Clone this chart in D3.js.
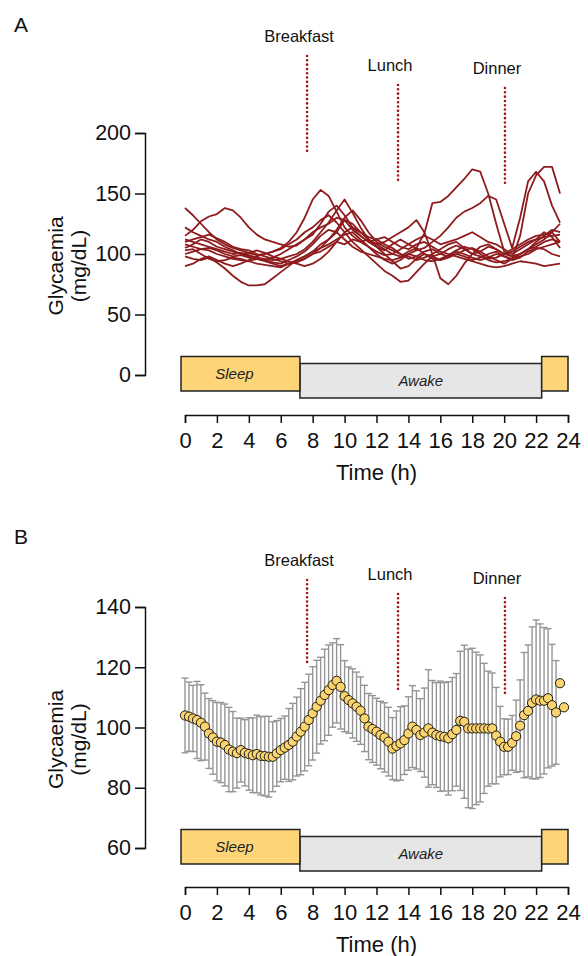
<!DOCTYPE html>
<html><head><meta charset="utf-8">
<script src="https://cdn.jsdelivr.net/npm/d3@7"></script>
<style>
body{margin:0;background:#fff;}
svg{display:block;font-family:"Liberation Sans",Arial,sans-serif;}
</style></head>
<body>
<svg id="chart" width="588" height="956"></svg>
<script>
// ---------------- DATA ----------------
const timesA = d3.range(0, 24, 0.5); // hours
const seriesA = [
 [138,132,125,118,112,108,105,103,101,99,100,102,105,110,118,130,145,153,148,135,122,115,110,112,108,104,100,98,102,105,100,96,95,98,102,100,97,95,97,100,98,96,100,104,108,112,118,125],
 [115,120,127,131,133,138,136,130,122,116,112,110,108,106,107,112,118,122,125,130,128,120,115,110,112,108,105,100,96,98,102,104,100,98,100,103,105,102,98,95,92,96,115,150,165,172,172,150],
 [108,106,104,105,103,100,98,99,97,96,95,97,100,104,108,112,116,125,135,140,132,122,115,110,106,103,108,112,108,105,117,142,143,148,155,162,170,168,150,125,102,98,100,104,106,110,112,110],
 [100,102,104,103,100,98,96,95,94,96,95,93,92,95,98,102,108,115,120,118,112,106,102,100,98,96,95,97,100,103,105,110,115,122,130,135,138,142,148,145,125,105,130,160,168,160,140,126],
 [98,96,95,97,93,88,82,77,74,74,75,80,85,90,95,98,102,108,112,118,128,125,118,112,106,100,94,88,90,96,100,98,95,97,100,98,95,97,100,102,98,95,97,102,105,104,100,98],
 [90,92,96,98,95,92,90,92,95,98,100,102,104,108,112,118,122,128,132,126,118,110,104,98,92,86,82,77,78,85,92,98,100,104,107,104,100,98,95,93,94,96,98,100,104,106,108,110],
 [112,110,108,106,104,102,100,101,99,97,96,95,96,98,100,104,110,118,126,136,145,134,122,112,108,110,114,118,122,128,118,100,80,75,82,92,100,106,108,104,100,102,106,110,112,114,115,116],
 [122,118,115,112,110,106,103,100,98,96,94,92,90,92,94,96,100,105,112,120,130,136,128,118,110,106,103,100,98,95,97,100,104,108,110,105,100,102,106,104,100,98,100,104,110,115,120,118],
 [105,108,112,110,106,104,102,100,101,103,101,98,96,94,92,90,92,96,102,110,118,122,118,114,112,114,110,106,104,108,110,106,102,100,98,96,94,92,90,89,90,92,94,93,92,90,91,92],
 [110,112,114,116,113,110,106,104,103,100,98,96,94,92,93,96,100,102,106,110,108,112,110,106,102,99,100,104,108,112,115,112,108,110,112,115,118,114,110,108,104,100,104,108,112,118,114,105],
 [103,104,100,96,94,95,97,96,94,92,91,90,89,92,95,98,102,105,108,112,116,118,112,106,100,95,92,95,100,98,95,94,96,99,103,106,104,100,96,97,100,104,108,112,115,116,118,110]
];

const timesB = d3.range(0, 24, 0.25); // hours
const meanB = [104,103.6,103,102.5,101.6,100.3,98,96.7,95.3,95,94.2,92.7,92,91.5,92.5,91.6,91.2,90.8,91.2,90.6,90.5,90.3,90.3,91.4,
 92.5,93.3,94.2,95.3,97,98.6,100.3,102.5,104.7,106.9,108.9,110.8,112.4,114.1,115.5,113.5,110.4,109.1,108,106.9,105.6,103,100.3,99.5,
 98.6,97.5,96.7,95.3,93,93.9,94.7,95.8,98,100.3,99.2,97.5,98.3,99.7,98.3,97.5,97.1,96.9,96.4,97.8,99.2,102.2,101.9,99.7,
 99.7,99.7,99.7,99.7,99.6,99.7,97.3,95.3,93.6,93.6,94.9,97.1,100.6,104.1,105.5,108.2,109.3,108.9,108.9,109.7,107.4,105,114.7,106.7];
const sdB = [12.4,11.5,11,12.8,12.6,11.1,11.6,12.2,13,13.3,13.6,14,13.3,11.6,10.6,11,12,12.4,12.9,13,13.2,13.4,11.6,10.9,
 10.5,10.5,12.1,12.7,13.1,14.3,14.7,15.2,15.5,15.4,14.4,15.2,15,14,14,14,11.8,11,11.5,11.5,11.2,11,11,11.1,
 11.1,11.2,11.5,11.4,10.3,11.6,12.2,11.4,12.2,13.6,13,12.1,14.8,19.5,17.3,17.4,18.3,18,18.8,18.8,18.7,23.1,25.4,26.3,
 26.6,25.3,24.4,21.6,19.1,18.4,16,11.7,9.3,9.2,9.1,12,15.2,20.8,21.9,25.2,26.4,25.5,24.3,23.1,20.2,17.2,0,0];

const xTicks = [0,2,4,6,8,10,12,14,16,18,20,22,24];
const yTicksA = [0,50,100,150,200];
const yTicksB = [60,80,100,120,140];
const meals = ["Breakfast","Lunch","Dinner"];
const mealTimes = [7.65, 13.35, 20.05];
const sleepPeriods = [[-0.25, 7.2], [22.35, 24]];
const awakePeriod = [7.2, 22.35];

// ---------------- DRAW ----------------
const svg = d3.select("#chart");
const x = d3.scaleLinear().domain([0,24]).range([185,568]);
const RED = "#8e1b1d";
const FONT = "Liberation Sans, Arial, sans-serif";

function panel(cfg){
  const g = svg.append("g");
  const y = d3.scaleLinear().domain(cfg.domain).range([cfg.yBottom, cfg.yTop]);
  g.append("text").attr("x",14).attr("y",cfg.letterY).attr("font-size",21).attr("fill","#111").text(cfg.letter);
  // y axis
  const ya = g.append("g").attr("transform","translate(145,0)")
    .call(d3.axisLeft(y).tickValues(cfg.yTicks).tickSize(10).tickSizeOuter(10).tickPadding(4));
  ya.selectAll("path,line").attr("stroke","#111").attr("stroke-width",1.5);
  ya.selectAll("text").attr("font-size",21.5).attr("fill","#111").attr("font-family",FONT);
  // y label
  const yl = g.append("text").attr("transform",`translate(63,${(cfg.yBottom+cfg.yTop)/2+12}) rotate(-90)`)
    .attr("text-anchor","middle").attr("font-size",21).attr("fill","#111");
  yl.append("tspan").attr("x",0).attr("dy",0).text("Glycaemia");
  yl.append("tspan").attr("x",0).attr("dy",23).text("(mg/dL)");
  // x axis
  const xa = g.append("g").attr("transform",`translate(0,${cfg.xAxisY})`)
    .call(d3.axisBottom(x).tickValues(xTicks).tickSize(8).tickSizeOuter(8).tickPadding(9));
  xa.selectAll("path,line").attr("stroke","#111").attr("stroke-width",1.5);
  xa.selectAll("text").attr("font-size",22).attr("fill","#111").attr("font-family",FONT);
  g.append("text").attr("x",x(12)).attr("y",cfg.xAxisY+65).attr("text-anchor","middle")
    .attr("font-size",22).attr("fill","#111").text("Time (h)");
  // sleep / awake bars
  const base = cfg.yBottom;
  g.append("rect").attr("x",x(awakePeriod[0])).attr("width",x(awakePeriod[1])-x(awakePeriod[0]))
    .attr("y",base-11.5).attr("height",34.5).attr("fill","#e6e6e6").attr("stroke","#222").attr("stroke-width",1.5);
  g.selectAll("rect.sleep").data(sleepPeriods).join("rect").attr("class","sleep")
    .attr("x",d=>x(d[0])).attr("width",d=>x(d[1])-x(d[0]))
    .attr("y",base-18.5).attr("height",34.5).attr("fill","#fdd477").attr("stroke","#222").attr("stroke-width",1.5);
  g.append("text").attr("x",(x(sleepPeriods[0][0])+x(sleepPeriods[0][1]))/2-6).attr("y",base+4)
    .attr("text-anchor","middle").attr("font-size",15).attr("font-style","italic").attr("fill","#222").text("Sleep");
  g.append("text").attr("x",(x(awakePeriod[0])+x(awakePeriod[1]))/2).attr("y",base+11)
    .attr("text-anchor","middle").attr("font-size",15).attr("font-style","italic").attr("fill","#222").text("Awake");
  // meals
  meals.forEach((m,i)=>{
    const mx = x(mealTimes[i]);
    g.append("line").attr("x1",mx).attr("x2",mx)
      .attr("y1",cfg.mealY[i][0]).attr("y2",cfg.mealY[i][1])
      .attr("stroke","#a3161c").attr("stroke-width",2.6).attr("stroke-linecap","round")
      .attr("stroke-dasharray","0.01,4.3");
    g.append("text").attr("x",mx-8).attr("y",cfg.mealY[i][0]-14).attr("text-anchor","middle")
      .attr("font-size",16.5).attr("fill","#111").text(m);
  });
  return {g,y};
}

// Panel A
const A = panel({letter:"A",letterY:32,domain:[0,200],yTop:133,yBottom:375,yTicks:yTicksA,xAxisY:415,
  mealY:[[56,155],[85,183],[88,187]]});
const lineA = d3.line().x((d,i)=>x(timesA[i])).y(d=>A.y(d));
A.g.append("g").selectAll("path").data(seriesA).join("path")
  .attr("d",lineA).attr("fill","none").attr("stroke",RED).attr("stroke-width",1.8).attr("stroke-linejoin","round");

// Panel B
const B = panel({letter:"B",letterY:544,domain:[60,140],yTop:607,yBottom:848,yTicks:yTicksB,xAxisY:887,
  mealY:[[580,663],[594,692],[598,697]]});
const eb = B.g.append("g").attr("stroke","#959595").attr("stroke-width",1.4);
timesB.forEach((t,i)=>{
  if(!sdB[i]) return;
  const cx = x(t), y1 = B.y(meanB[i]+sdB[i]), y2 = B.y(meanB[i]-sdB[i]);
  eb.append("line").attr("x1",cx).attr("x2",cx).attr("y1",y1).attr("y2",y2);
  eb.append("line").attr("x1",cx-3.5).attr("x2",cx+3.5).attr("y1",y1).attr("y2",y1);
  eb.append("line").attr("x1",cx-3.5).attr("x2",cx+3.5).attr("y1",y2).attr("y2",y2);
});
B.g.append("g").selectAll("circle").data(meanB).join("circle")
  .attr("cx",(d,i)=>x(timesB[i])).attr("cy",d=>B.y(d)).attr("r",4.6)
  .attr("fill","#fcd46e").attr("stroke","#1a1a1a").attr("stroke-width",1);
</script>
</body></html>
